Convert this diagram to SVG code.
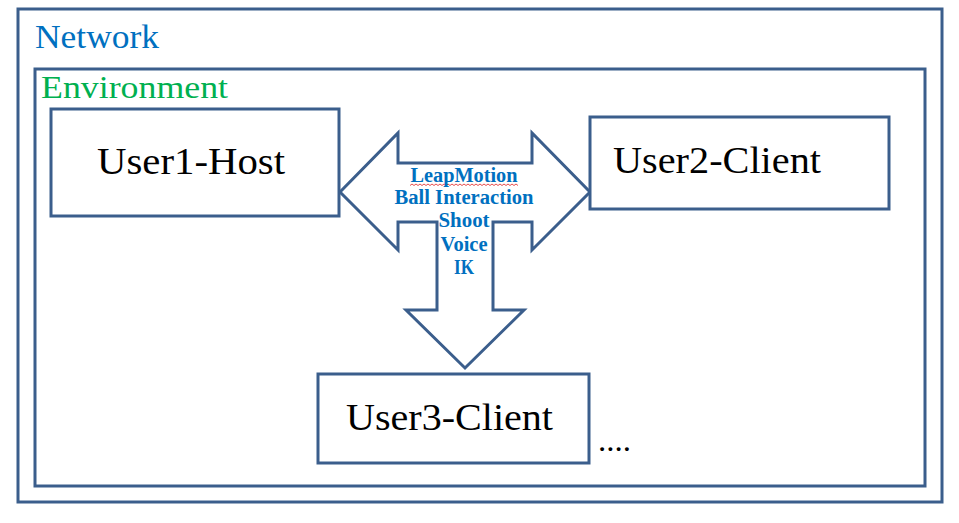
<svg xmlns="http://www.w3.org/2000/svg" width="959" height="523" viewBox="0 0 959 523">
<style>
.box{fill:#fff;stroke:#3B5E8C;stroke-width:3}
.frame{fill:none;stroke:#3B5E8C;stroke-width:3}
.lbl{font-family:"Liberation Serif",serif;fill:#000;font-size:38px}
.arr{font-family:"Liberation Serif",serif;font-weight:bold;fill:#0070C0;font-size:20px;text-anchor:middle}
</style>
<rect width="959" height="523" fill="#fff"/>
<g id="network">
<rect class="frame" x="18" y="9" width="924" height="493"/>
<text x="35" y="48" font-family="Liberation Serif,serif" font-size="33" fill="#0070C0" textLength="124" lengthAdjust="spacingAndGlyphs">Network</text>
</g>
<g id="environment">
<rect class="frame" x="35" y="69" width="890" height="417"/>
<text x="41" y="98" font-family="Liberation Serif,serif" font-size="31" fill="#00B050" textLength="187" lengthAdjust="spacingAndGlyphs">Environment</text>
</g>
<g id="connectors">
<polygon class="box" points="340,192 398,133 398,163 532,163 532,133 590,192 532,250 532,222 493,222 493,310 524,310 465,368 406,310 437,310 437,222 398,222 398,250"/>
<path d="M410,185.5 l2,-1.5 l2,1.5 l2,-1.5 l2,1.5 l2,-1.5 l2,1.5 l2,-1.5 l2,1.5 l2,-1.5 l2,1.5 l2,-1.5 l2,1.5 l2,-1.5 l2,1.5 l2,-1.5 l2,1.5 l2,-1.5 l2,1.5 l2,-1.5 l2,1.5 l2,-1.5 l2,1.5 l2,-1.5 l2,1.5 l2,-1.5 l2,1.5 l2,-1.5 l2,1.5 l2,-1.5 l2,1.5 l2,-1.5 l2,1.5 l2,-1.5 l2,1.5 l2,-1.5 l2,1.5 l2,-1.5 l2,1.5 l2,-1.5 l2,1.5 l2,-1.5 l2,1.5 l2,-1.5 l2,1.5 l2,-1.5 l2,1.5 l2,-1.5 l2,1.5 l2,-1.5 l2,1.5 l2,-1.5 l2,1.5 l2,-1.5 l2,1.5" fill="none" stroke="#E02020" stroke-width="0.8"/>
<text class="arr" x="464" y="182" textLength="107" lengthAdjust="spacingAndGlyphs">LeapMotion</text>
<text class="arr" x="464" y="204" textLength="139" lengthAdjust="spacingAndGlyphs">Ball Interaction</text>
<text class="arr" x="464" y="227" textLength="51" lengthAdjust="spacingAndGlyphs">Shoot</text>
<text class="arr" x="464" y="251" textLength="47" lengthAdjust="spacingAndGlyphs">Voice</text>
<text class="arr" x="464" y="274" textLength="20" lengthAdjust="spacingAndGlyphs">IK</text>
</g>
<g id="user1">
<rect class="box" x="51" y="109" width="288" height="107"/>
<text class="lbl" x="97" y="174" textLength="188" lengthAdjust="spacingAndGlyphs">User1-Host</text>
</g>
<g id="user2">
<rect class="box" x="590" y="117" width="299" height="92"/>
<text class="lbl" x="613" y="173" textLength="208" lengthAdjust="spacingAndGlyphs">User2-Client</text>
</g>
<g id="user3">
<rect class="box" x="318" y="374" width="271" height="89"/>
<text class="lbl" x="346" y="430" textLength="207" lengthAdjust="spacingAndGlyphs">User3-Client</text>
</g>
<g id="more">
<text x="598" y="451" font-family="Liberation Serif,serif" font-size="32" fill="#000" textLength="33" lengthAdjust="spacingAndGlyphs">....</text>
</g>
</svg>
